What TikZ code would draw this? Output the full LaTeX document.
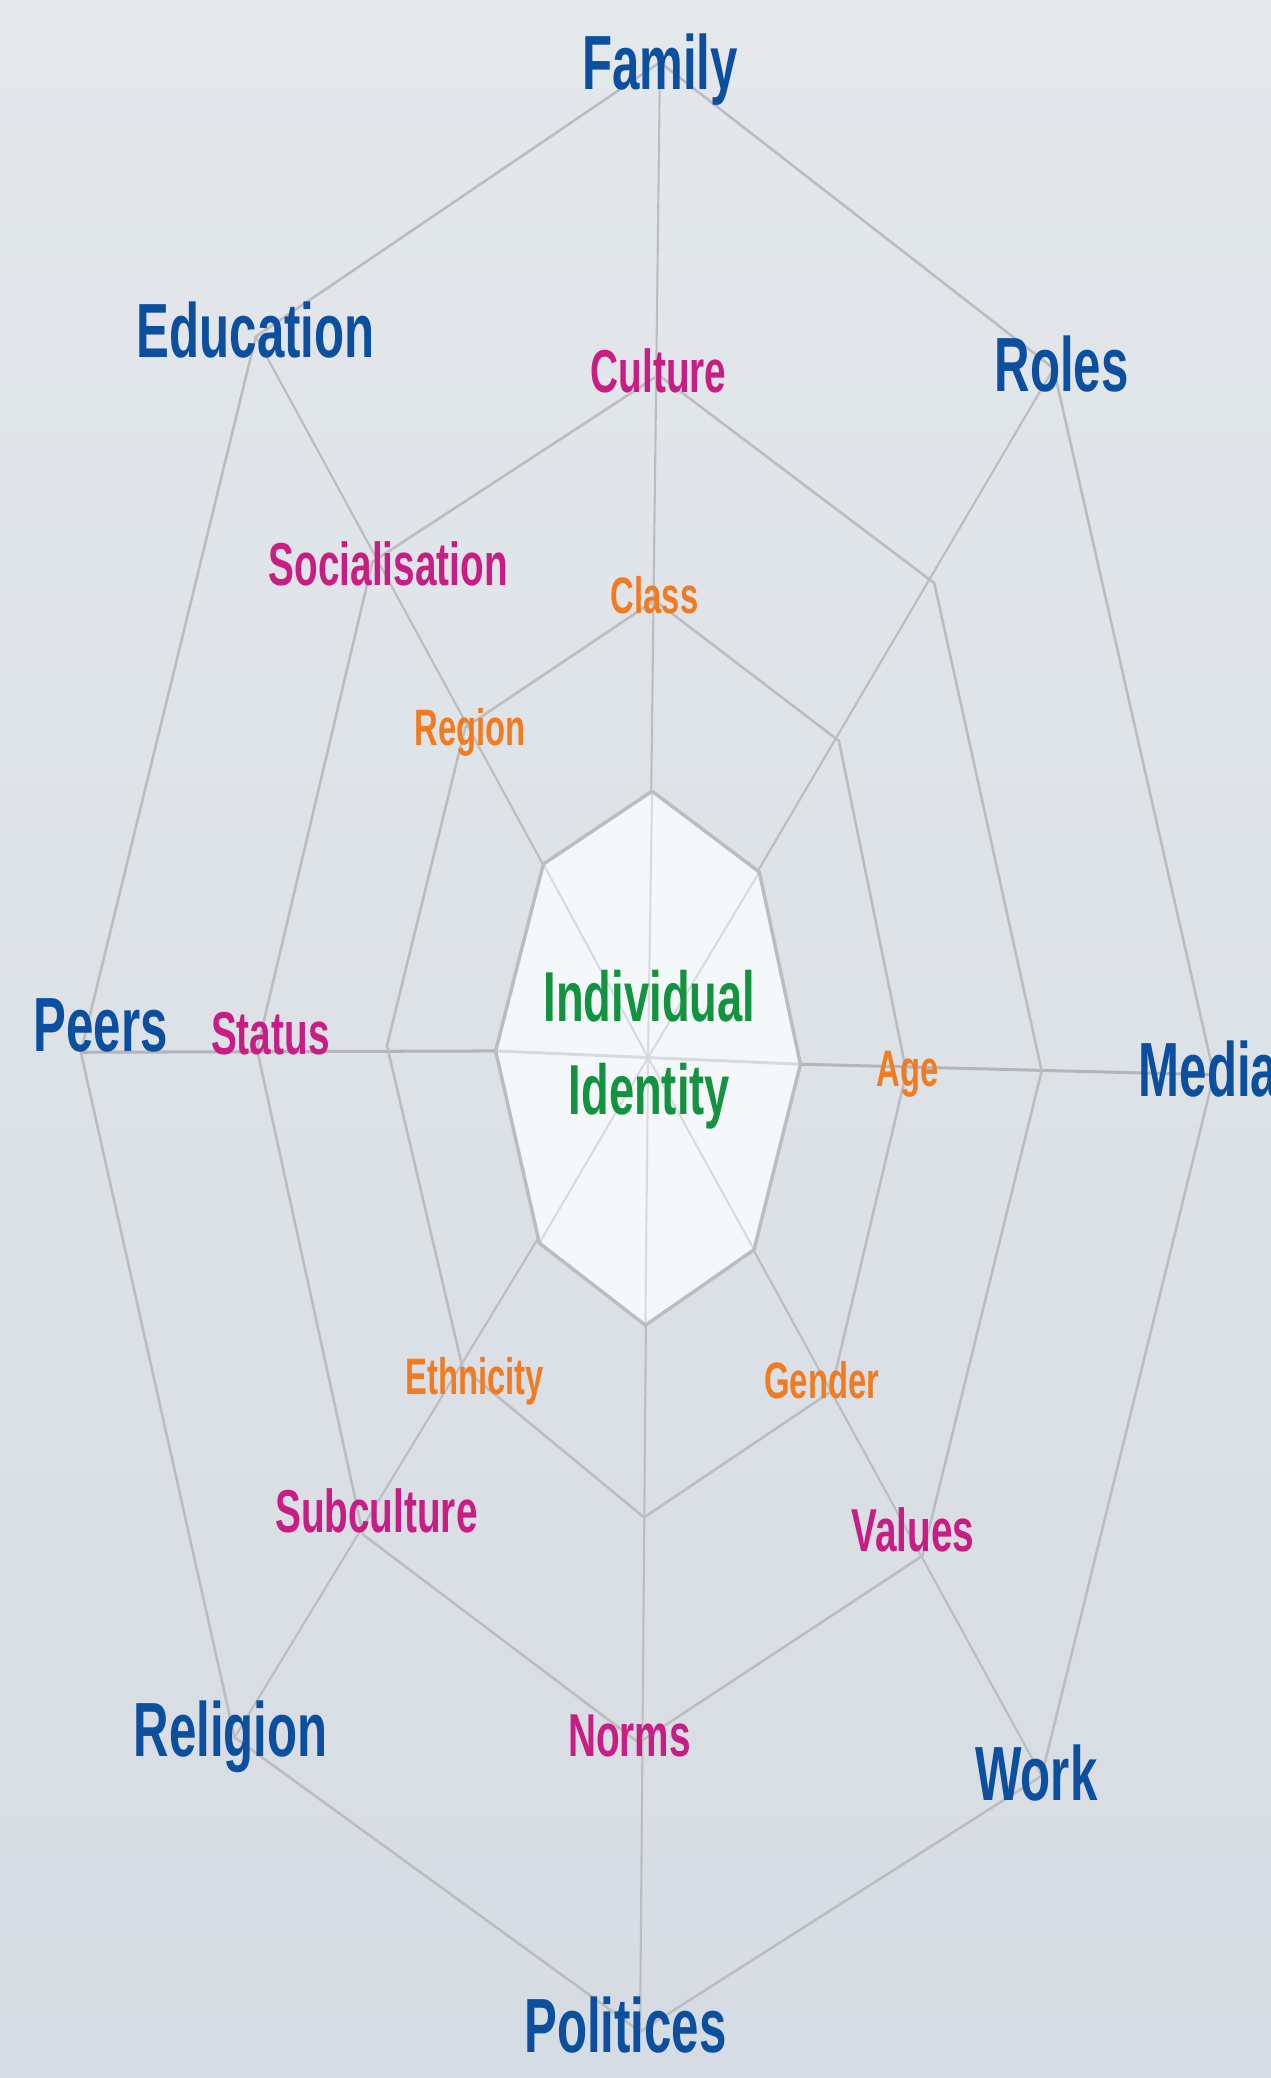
\documentclass[tikz,border=0pt]{standalone}
\usepackage{fontspec}
\setmainfont{Liberation Sans}[FakeStretch=0.64]
\definecolor{bgtop}{HTML}{E4E8EB}
\definecolor{bgbottom}{HTML}{D6DCE3}
\definecolor{outerblue}{HTML}{0B4F9E}
\definecolor{midpink}{HTML}{C81E84}
\definecolor{innerorange}{HTML}{F27B22}
\definecolor{coregreen}{HTML}{13923F}
\definecolor{webgrey}{HTML}{BCBDC0}
\definecolor{axisgrey}{HTML}{B3B5BA}
\definecolor{corefill}{HTML}{F5F8FB}
\definecolor{coreline}{HTML}{D7DBDF}

\tikzset{
  outerlbl/.style={text=outerblue,inner sep=0pt,text height=23.5pt,text depth=0pt,
    font=\fontsize{33}{33}\selectfont\bfseries},
  midlbl/.style={text=midpink,inner sep=0pt,text height=18.7pt,text depth=0pt,
    font=\fontsize{26}{26}\selectfont\bfseries},
  innerlbl/.style={text=innerorange,inner sep=0pt,text height=15.8pt,text depth=0pt,
    font=\fontsize{22}{22}\selectfont\bfseries},
  corelbl/.style={text=coregreen,align=center,inner sep=0pt,
    font=\fontsize{30.4}{39.7}\selectfont\bfseries},
  ring/.style={draw=webgrey,line width=1.1pt,line join=round},
  corering/.style={draw=webgrey,line width=1.5pt,line join=round},
  spoke/.style={draw=webgrey,line width=0.9pt},
  axis/.style={draw=axisgrey,line width=1.3pt},
}

\begin{document}
\begin{tikzpicture}[x=0.02cm,y=-0.02cm]
  \useasboundingbox (0,0) rectangle (959,1568);
  \clip (0,0) rectangle (959,1568);
  \shade[top color=bgtop,bottom color=bgbottom] (0,0) rectangle (959,1568);

  % web points, 1 = top, then clockwise
  \coordinate (ctr) at (489,798);
  \coordinate (c1) at (492,597);   \coordinate (c2) at (573,658);
  \coordinate (c3) at (604,803);   \coordinate (c4) at (569,943);
  \coordinate (c5) at (487,1000);  \coordinate (c6) at (407,938);
  \coordinate (c7) at (374,793);   \coordinate (c8) at (410,652);
  \coordinate (n1) at (494,453);   \coordinate (n2) at (633,559);
  \coordinate (n3) at (684,809);   \coordinate (n4) at (627,1050);
  \coordinate (n5) at (486,1145);  \coordinate (n6) at (349,1032);
  \coordinate (n7) at (292,789);   \coordinate (n8) at (351,549);
  \coordinate (m1) at (497,283);   \coordinate (m2) at (705,440);
  \coordinate (m3) at (786,808);   \coordinate (m4) at (696,1174);
  \coordinate (m5) at (482,1315);  \coordinate (m6) at (274,1158);
  \coordinate (m7) at (194,792);   \coordinate (m8) at (281,424);
  \coordinate (o1) at (498,47);    \coordinate (o2) at (795,278);
  \coordinate (o3) at (916,811);   \coordinate (o4) at (786,1340);
  \coordinate (o5) at (483,1533);  \coordinate (o6) at (177,1311);
  \coordinate (o7) at (61,794);    \coordinate (o8) at (193,254);

  % spokes
  \foreach \k in {1,2,4,5,6,8}
    \draw[spoke] (ctr) -- (o\k);
  \draw[axis] (o7) -- (c7);
  \draw[axis] (c3) -- (o3);

  % core
  \fill[corefill] (c1) -- (c2) -- (c3) -- (c4) -- (c5) -- (c6) -- (c7) -- (c8) -- cycle;
  \foreach \k in {1,2,4,5,6,8}
    \draw[coreline,line width=0.9pt] (ctr) -- (c\k);
  \draw[coreline,line width=1.3pt] (c7) -- (c3);

  % rings
  \draw[ring] (n1) -- (n2) -- (n3) -- (n4) -- (n5) -- (n6) -- (n7) -- (n8) -- cycle;
  \draw[ring] (m1) -- (m2) -- (m3) -- (m4) -- (m5) -- (m6) -- (m7) -- (m8) -- cycle;
  \draw[ring] (o1) -- (o2) -- (o3) -- (o4) -- (o5) -- (o6) -- (o7) -- (o8) -- cycle;
  \draw[corering] (c1) -- (c2) -- (c3) -- (c4) -- (c5) -- (c6) -- (c7) -- (c8) -- cycle;

  % labels
  \node[corelbl] (ident) at (490,792) {Individual\\Identity};

  \node[innerlbl] (class) at (494,449) {Class};
  \node[innerlbl] (region) at (355,549) {Region};
  \node[innerlbl] (age) at (685,806) {Age};
  \node[innerlbl] (gender) at (620,1041) {Gender};
  \node[innerlbl] (ethnic) at (358,1038) {Ethnicity};

  \node[midlbl] (culture) at (497,280) {Culture};
  \node[midlbl] (social) at (293,425) {Socialisation};
  \node[midlbl] (status) at (204,779) {Status};
  \node[midlbl] (subcult) at (284,1140) {Subculture};
  \node[midlbl] (norms) at (475,1309) {Norms};
  \node[midlbl] (values) at (689,1154) {Values};

  \node[outerlbl] (family) at (498,47) {Family};
  \node[outerlbl] (roles) at (801,275) {Roles};
  \node[outerlbl,anchor=west] (media) at (859,807) {Media};
  \node[outerlbl] (work) at (782,1338) {Work};
  \node[outerlbl] (polit) at (472,1528) {Politices};
  \node[outerlbl] (relig) at (174,1305) {Religion};
  \node[outerlbl] (peers) at (76,773) {Peers};
  \node[outerlbl] (educ) at (193,249) {Education};
\end{tikzpicture}
\end{document}
